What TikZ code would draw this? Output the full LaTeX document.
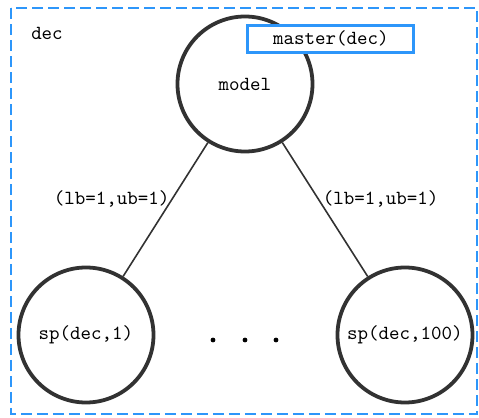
\documentclass[tikz,border=0pt]{standalone}
\usepackage{amsmath}
\usepackage{tikz}

\definecolor{decblue}{RGB}{45,150,250}
\definecolor{nodegray}{RGB}{50,50,50}

\tikzset{
  probnode/.style={circle, draw=nodegray, line width=1.9pt, minimum size=67.5pt, inner sep=0pt, font=\ttfamily},
  bound/.style={font=\ttfamily, inner sep=1pt},
  link/.style={draw=nodegray, line width=0.8pt},
}

\begin{document}
\begin{tikzpicture}[x=0.5pt,y=0.5pt,yscale=-1,xscale=1]
\useasboundingbox (0,0) rectangle (479,418);

%Dashed frame
\draw [color=decblue, line width=1.4pt, dash pattern=on 5.5pt off 2.5pt] (11,8) rectangle (477,414) ;
\node (declabel) at (47,33) {\ttfamily dec};

%Circles
\node [probnode] (model) at (245,84) {model};
\node [probnode] (sp1) at (86,335) {sp(dec,1)};
\node [probnode] (sp100) at (405,335) {sp(dec,100)};

%Straight Lines
\draw [link] (model) -- (sp1) node [bound, pos=0.42, anchor=east] (lbl1) {(lb=1,ub=1)};
\draw [link] (model) -- (sp100) node [bound, pos=0.42, anchor=west, xshift=1pt] (lbl100) {(lb=1,ub=1)};

%Dots
\foreach \x in {213,245,276}
  \fill (\x,340) circle (2.4);

%Master box
\node [draw=decblue, fill=white, line width=1.5pt, minimum width=83pt, minimum height=13.5pt, inner sep=0pt, font=\ttfamily] (master) at (331,38.5) {master(dec)};

\end{tikzpicture}
\end{document}
